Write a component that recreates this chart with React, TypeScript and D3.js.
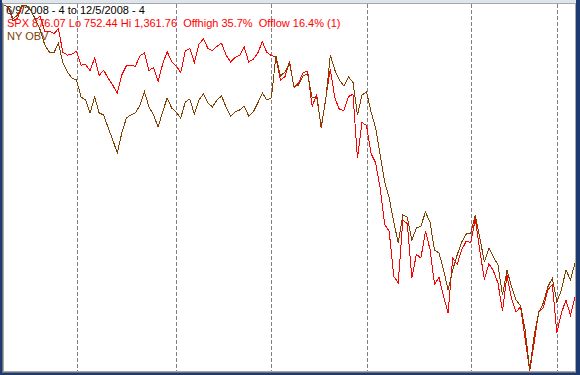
import React from "react";
import * as d3 from "d3";

// ---- data ----
const startDate = new Date(2008, 5, 9);
const endDate = new Date(2008, 11, 6);
const holidays = ["2008-07-04", "2008-09-01", "2008-11-27"];
const fmt = d3.timeFormat("%Y-%m-%d");
const tradingDays: Date[] = d3
  .timeDay.range(startDate, endDate)
  .filter((d) => d.getDay() !== 0 && d.getDay() !== 6 && !holidays.includes(fmt(d)));

const spx = [
  1361.76, 1358.44, 1335.49, 1339.87, 1360.03, 1360.14, 1350.93, 1337.81, 1342.83, 1317.93, 1318.0, 1314.29, 1321.97, 1283.15, 1278.38, 1280.0,
  1284.91, 1261.52, 1262.9, 1252.31, 1273.7, 1244.69, 1253.39, 1239.49, 1228.3, 1214.91, 1245.36, 1260.32, 1260.68, 1260.0, 1277.0, 1282.19, 1252.54, 1257.76, 1234.37, 1263.2, 1284.26, 1267.38,
  1260.31, 1249.01, 1284.88, 1289.19, 1266.07, 1296.32, 1305.32, 1289.59, 1285.83, 1292.93, 1298.2, 1278.6, 1266.69, 1274.54, 1277.72, 1292.2, 1266.84, 1271.51, 1281.66, 1300.68, 1282.83,
  1277.58, 1274.98, 1236.83, 1242.31, 1267.79, 1224.51, 1232.04, 1249.05, 1251.7, 1192.7, 1213.6, 1156.39, 1206.51, 1255.08, 1207.09, 1188.22, 1185.87, 1209.18, 1213.27, 1106.42, 1166.36,
  1161.06, 1114.28, 1099.23, 1056.89, 996.23, 984.94, 909.92, 899.22, 1003.35, 998.01, 907.84, 946.43, 940.55, 985.4, 955.05, 896.78, 908.11, 876.77, 848.92, 940.51, 930.09, 954.09, 968.75,
  966.3, 1005.75, 952.77, 904.88, 930.99, 919.21, 898.95, 852.3, 911.29, 873.29, 850.75, 859.12, 806.58, 752.44, 800.03, 851.81, 857.39, 887.68, 896.24,
  816.21, 848.81, 870.74, 845.22, 876.07,
];

const nyObv = [
  366, 364, 352, 356, 366, 365, 360, 351, 341, 326, 319, 318, 328, 308, 299, 293,
  291, 274, 271, 258, 274, 258, 256, 243, 231, 218, 238, 253, 256, 258, 266, 279, 264, 256, 244, 259, 273, 263,
  259, 253, 269, 272, 257, 271, 277, 268, 264, 271, 275, 264, 255, 259, 261, 265, 255, 259, 268, 278, 271,
  273, 315, 295, 299, 308, 284, 286, 295, 297, 273, 274, 244, 271, 316, 301, 291, 285, 294, 289, 256, 276,
  279, 259, 243, 216, 189, 173, 149, 128, 156, 154, 131, 143, 145, 159, 149, 121, 118, 101, 81, 101, 116, 129, 137,
  138, 156, 133, 109, 123, 114, 106, 76, 101, 84, 71, 65, 41, 1, 36, 58, 68, 84, 93,
  69, 81, 101, 91, 108,
];

const titleLine = "6/9/2008 - 4 to 12/5/2008 - 4";
const spxLine = "SPX 876.07 Lo 752.44 Hi 1,361.76  Offhigh 35.7%  Offlow 16.4% (1)";
const obvLine = "NY OBV";

export default function App() {
  const W = 580;
  const H = 375;
  const left = 4, right = 575, top = 5, bottom = 371;

  const x = d3.scaleLinear().domain([0, tradingDays.length - 1]).range([left, right]);
  const ySpx = d3.scaleLinear().domain(d3.extent(spx) as [number, number]).range([bottom, top]);
  const yObv = d3.scaleLinear().domain(d3.extent(nyObv) as [number, number]).range([bottom - 1, top]);

  const monthStarts: number[] = [];
  tradingDays.forEach((d, i) => {
    if (i > 0 && d.getMonth() !== tradingDays[i - 1].getMonth()) monthStarts.push(i);
  });

  const spxPath = d3.line<number>().x((_, i) => x(i)).y((v) => ySpx(v))(spx) || "";
  const obvPath = d3.line<number>().x((_, i) => x(i)).y((v) => yObv(v))(nyObv) || "";

  const font = "'Liberation Sans', Arial, sans-serif";

  return (
    <svg
      width={W}
      height={H}
      style={{ position: "fixed", left: 0, top: 0, display: "block" }}
    >
      {/* window frame */}
      <rect x={0} y={0} width={W} height={H} fill="#1d3b72" />
      <rect x={2} y={0} width={574} height={3} fill="#dfe5ec" />
      <rect x={2} y={3} width={574} height={370} fill="#6f6f6f" />
      <rect x={3} y={3} width={573} height={369} fill="#a8a8a8" />
      <rect x={4} y={4} width={571} height={367} fill="#ffffff" />

      {/* month gridlines */}
      {monthStarts.map((i) => (
        <line
          key={i}
          x1={Math.round(x(i)) + 0.5}
          x2={Math.round(x(i)) + 0.5}
          y1={4}
          y2={371}
          stroke="#808080"
          strokeWidth={1}
          strokeDasharray="4,2"
          shapeRendering="crispEdges"
        />
      ))}

      {/* labels */}
      <g fontFamily={font} fontSize={11}>
        <text x={6} y={14} fill="#000000">{titleLine}</text>
        <text x={7} y={27} fill="#ff0000" style={{ whiteSpace: "pre" }}>{spxLine}</text>
        <text x={7} y={40} fill="#804000">{obvLine}</text>
      </g>

      {/* series */}
      <path d={spxPath} fill="none" stroke="#ff0000" strokeWidth={1} shapeRendering="crispEdges" />
      <path d={obvPath} fill="none" stroke="#804000" strokeWidth={1} shapeRendering="crispEdges" />
    </svg>
  );
}
